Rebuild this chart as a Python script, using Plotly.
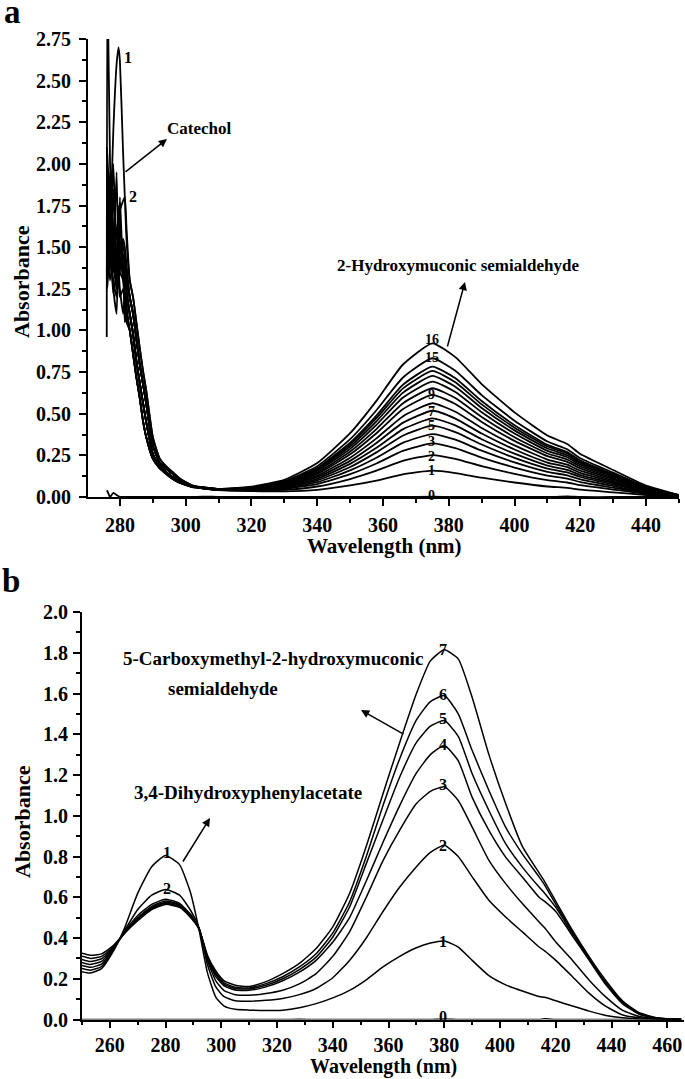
import plotly.graph_objects as go

W, H = 685, 1079
FONT = "Liberation Serif"

# ---------------- Panel a data ----------------
WL_A = [276, 276.2, 277, 278, 279, 279.6, 280, 281, 281.5, 282,
        283, 284, 285, 286, 287, 288, 290, 292, 294, 296, 298, 300, 302,
        305, 310, 320, 330, 340, 350, 358, 366, 375, 382, 390, 400, 410, 416, 420, 430, 440, 450]

a0 = [0.04, 0.035, 0.0, 0.025, 0.012, 0.004, 0.0, 0.001, 0.0, 0.0,
      0.0, 0.0, 0.0, 0.0, 0.0, 0.0, 0.0, 0.0, 0.0, 0.0, 0.0, 0.0, 0.0,
      0.002, 0.001, 0.0, 0.0, 0.001, 0.0, 0.0, 0.0, 0.002, 0.0, 0.0, 0.0, 0.0, 0.003, 0.0, 0.0, 0.0, 0.0]
a1 = [1.30, 1.32, 1.60, 2.20, 2.60, 2.70, 2.62, 2.05, 1.80, 1.55,
      1.3, 1.2, 1.05, 0.90, 0.76, 0.64, 0.36, 0.235, 0.185, 0.15, 0.115, 0.09, 0.07,
      0.052, 0.042, 0.036, 0.034, 0.043, 0.070, 0.099, 0.136, 0.158, 0.144, 0.116, 0.087, 0.063, 0.055, 0.044, 0.028, 0.012, 0.002]
a2 = [1.50, 1.48, 1.30, 1.45, 1.60, 1.68, 1.72, 1.78, 1.80, 1.62,
      1.3, 1.2, 1.05, 0.90, 0.76, 0.64, 0.36, 0.235, 0.185, 0.15, 0.115, 0.09, 0.07,
      0.052, 0.043, 0.039, 0.043, 0.063, 0.108, 0.158, 0.217, 0.252, 0.229, 0.185, 0.139, 0.101, 0.087, 0.071, 0.044, 0.019, 0.003]
a3 = [2.10, 2.05, 1.70, 1.45, 1.95, 1.40, 1.50, 1.45, 1.40, 1.30,
      1.2, 1.1, 0.95, 0.80, 0.68, 0.56, 0.31, 0.21, 0.17, 0.14, 0.105, 0.083, 0.067,
      0.053, 0.043, 0.041, 0.049, 0.078, 0.137, 0.201, 0.277, 0.322, 0.293, 0.237, 0.177, 0.129, 0.111, 0.090, 0.056, 0.024, 0.004]
a4 = [1.60, 1.62, 1.85, 1.50, 1.35, 1.75, 1.60, 1.50, 1.45, 1.35,
      1.2, 1.1, 0.95, 0.80, 0.68, 0.56, 0.31, 0.21, 0.17, 0.14, 0.105, 0.083, 0.067,
      0.053, 0.044, 0.043, 0.054, 0.089, 0.160, 0.236, 0.325, 0.378, 0.344, 0.278, 0.208, 0.151, 0.130, 0.106, 0.066, 0.028, 0.005]
a5 = [1.90, 1.88, 1.55, 2.00, 1.45, 1.40, 1.55, 1.40, 1.35, 1.25,
      1.1, 0.98, 0.82, 0.69, 0.57, 0.45, 0.26, 0.19, 0.15, 0.12, 0.095, 0.077, 0.063,
      0.054, 0.044, 0.045, 0.059, 0.100, 0.180, 0.268, 0.368, 0.428, 0.389, 0.315, 0.235, 0.171, 0.148, 0.120, 0.075, 0.032, 0.006]
a6 = [1.45, 1.47, 1.75, 1.40, 1.60, 1.50, 1.35, 1.55, 1.50, 1.40,
      1.2, 1.1, 0.95, 0.80, 0.68, 0.56, 0.31, 0.21, 0.17, 0.14, 0.105, 0.083, 0.067,
      0.054, 0.045, 0.047, 0.062, 0.109, 0.199, 0.295, 0.406, 0.472, 0.430, 0.347, 0.260, 0.189, 0.163, 0.132, 0.083, 0.035, 0.006]
a7 = [1.75, 1.72, 1.40, 1.60, 1.30, 1.45, 1.80, 1.35, 1.30, 1.20,
      1.1, 0.98, 0.82, 0.69, 0.57, 0.45, 0.26, 0.19, 0.15, 0.12, 0.095, 0.077, 0.063,
      0.055, 0.045, 0.048, 0.067, 0.119, 0.217, 0.324, 0.445, 0.518, 0.471, 0.381, 0.285, 0.207, 0.179, 0.145, 0.091, 0.039, 0.007]
a8 = [2.00, 1.98, 1.65, 1.35, 1.50, 1.30, 1.45, 1.30, 1.25, 1.15,
      1.0, 0.86, 0.72, 0.60, 0.46, 0.36, 0.23, 0.175, 0.14, 0.11, 0.088, 0.072, 0.06,
      0.055, 0.046, 0.050, 0.071, 0.128, 0.236, 0.352, 0.484, 0.563, 0.512, 0.414, 0.310, 0.225, 0.194, 0.158, 0.099, 0.042, 0.007]
a9 = [1.35, 1.37, 1.55, 1.25, 1.10, 1.55, 1.40, 1.45, 1.35, 1.25,
      1.1, 0.98, 0.82, 0.69, 0.57, 0.45, 0.26, 0.19, 0.15, 0.12, 0.095, 0.077, 0.063,
      0.056, 0.046, 0.051, 0.075, 0.139, 0.256, 0.383, 0.527, 0.613, 0.558, 0.451, 0.337, 0.245, 0.211, 0.172, 0.107, 0.046, 0.008]
a10 = [1.55, 1.56, 1.95, 1.60, 1.45, 1.35, 1.50, 1.40, 1.45, 1.35,
       1.2, 1.1, 0.95, 0.80, 0.68, 0.56, 0.31, 0.21, 0.17, 0.14, 0.105, 0.083, 0.067,
       0.056, 0.047, 0.053, 0.079, 0.147, 0.273, 0.408, 0.562, 0.653, 0.594, 0.480, 0.359, 0.261, 0.225, 0.183, 0.114, 0.049, 0.008]
a11 = [1.80, 1.78, 1.45, 1.30, 1.20, 1.35, 1.25, 1.10, 1.20, 1.10,
       1.0, 0.86, 0.72, 0.60, 0.46, 0.36, 0.23, 0.175, 0.14, 0.11, 0.088, 0.072, 0.06,
       0.057, 0.047, 0.054, 0.082, 0.156, 0.289, 0.433, 0.596, 0.693, 0.631, 0.509, 0.381, 0.277, 0.239, 0.194, 0.121, 0.052, 0.009]
a12 = [1.25, 1.27, 1.50, 1.22, 1.35, 1.45, 1.65, 1.40, 1.30, 1.20,
       1.1, 0.98, 0.82, 0.69, 0.57, 0.45, 0.26, 0.19, 0.15, 0.12, 0.095, 0.077, 0.063,
       0.057, 0.047, 0.055, 0.085, 0.163, 0.303, 0.454, 0.625, 0.727, 0.662, 0.534, 0.400, 0.291, 0.251, 0.204, 0.127, 0.055, 0.009]
a13 = [1.65, 1.63, 1.35, 1.85, 1.28, 1.40, 1.35, 1.30, 1.05, 1.10,
       1.0, 0.86, 0.72, 0.60, 0.46, 0.36, 0.23, 0.175, 0.14, 0.11, 0.088, 0.072, 0.06,
       0.058, 0.048, 0.056, 0.088, 0.169, 0.315, 0.473, 0.651, 0.757, 0.689, 0.556, 0.416, 0.303, 0.261, 0.212, 0.132, 0.057, 0.010]
a14 = [1.40, 1.42, 1.70, 1.35, 1.50, 1.30, 1.40, 1.35, 1.30, 1.20,
       1.1, 0.98, 0.82, 0.69, 0.57, 0.45, 0.26, 0.19, 0.15, 0.12, 0.095, 0.077, 0.063,
       0.058, 0.048, 0.057, 0.090, 0.174, 0.326, 0.489, 0.673, 0.783, 0.713, 0.576, 0.431, 0.313, 0.270, 0.219, 0.137, 0.059, 0.010]
a15 = [1.95, 1.93, 1.50, 1.40, 1.25, 1.30, 1.20, 1.25, 1.15, 1.05,
       1.0, 0.86, 0.72, 0.60, 0.46, 0.36, 0.23, 0.175, 0.14, 0.11, 0.088, 0.072, 0.06,
       0.059, 0.048, 0.059, 0.095, 0.185, 0.347, 0.521, 0.716, 0.833, 0.758, 0.612, 0.458, 0.333, 0.287, 0.233, 0.146, 0.062, 0.011]
a16 = [0.96, 3.20, 2.00, 1.60, 1.45, 1.50, 1.40, 1.45, 1.40, 1.30,
       1.2, 1.1, 0.95, 0.80, 0.68, 0.56, 0.31, 0.21, 0.17, 0.14, 0.105, 0.083, 0.067,
       0.060, 0.049, 0.062, 0.103, 0.204, 0.383, 0.577, 0.794, 0.923, 0.840, 0.678, 0.508, 0.369, 0.318, 0.258, 0.162, 0.069, 0.012]

SERIES_A = [a0, a1, a2, a3, a4, a5, a6, a7, a8, a9, a10, a11, a12, a13, a14, a15, a16]

# curve labels of panel a
LAB_A_TEXT = ["16", "15", "9", "7", "5", "3", "2", "1", "0"]
LAB_A_Y = [0.943, 0.837, 0.613, 0.512, 0.428, 0.332, 0.242, 0.158, 0.012]
LAB_A_X = 374.8
CAT_LAB_TEXT = ["1", "2"]
CAT_LAB_X = [282.4, 283.9]
CAT_LAB_Y = [2.641, 1.804]

# ---------------- Panel b data ----------------
WL_B = [250, 253, 257, 261, 265, 270, 275, 280, 285, 289, 292, 295, 298, 301, 305, 310,
        316, 322, 328, 334, 340, 346, 352, 358, 364, 370, 375, 380, 385, 390,
        396, 402, 408, 414, 416, 420, 426, 432, 438, 444, 450, 456, 465]

b0 = [0.0, 0.0, 0.0, 0.0, 0.0, 0.0, 0.0, 0.0, 0.0, 0.0, 0.0, 0.0, 0.0, 0.0, 0.0, 0.0,
      0.0, 0.0, 0.001, 0.0, 0.0, 0.0, 0.0, 0.0, 0.0, 0.0, 0.0, 0.002, 0.0, 0.0,
      0.0, 0.0, 0.0, 0.0, 0.004, 0.0, 0.0, 0.0, 0.0, 0.0, 0.0, 0.0, 0.0]
b1 = [0.235, 0.228, 0.25, 0.33, 0.44, 0.62, 0.75, 0.805, 0.76, 0.62, 0.44, 0.23, 0.11, 0.066, 0.05, 0.046,
      0.044, 0.046, 0.058, 0.078, 0.106, 0.143, 0.195, 0.258, 0.31, 0.352, 0.375, 0.385, 0.355, 0.29,
      0.215, 0.17, 0.14, 0.113, 0.109, 0.092, 0.066, 0.041, 0.02, 0.008, 0.003, 0.001, 0.0]
b2 = [0.25, 0.242, 0.26, 0.335, 0.43, 0.54, 0.61, 0.638, 0.61, 0.535, 0.45, 0.27, 0.16, 0.112, 0.092, 0.09,
      0.094, 0.103, 0.122, 0.152, 0.205, 0.29, 0.40, 0.53, 0.65, 0.75, 0.82, 0.855, 0.80, 0.70,
      0.585, 0.503, 0.43, 0.356, 0.337, 0.29, 0.21, 0.128, 0.064, 0.022, 0.008, 0.003, 0.0]
b3 = [0.265, 0.256, 0.272, 0.34, 0.425, 0.51, 0.565, 0.59, 0.57, 0.515, 0.445, 0.29, 0.19, 0.142, 0.122, 0.119,
      0.128, 0.144, 0.175, 0.225, 0.31, 0.43, 0.60, 0.78, 0.93, 1.06, 1.12, 1.142, 1.075, 0.944,
      0.781, 0.667, 0.569, 0.479, 0.45, 0.38, 0.29, 0.193, 0.11, 0.045, 0.015, 0.004, 0.0]
b4 = [0.28, 0.27, 0.285, 0.345, 0.42, 0.50, 0.555, 0.582, 0.565, 0.51, 0.445, 0.30, 0.21, 0.165, 0.145, 0.143,
      0.16, 0.19, 0.232, 0.29, 0.38, 0.50, 0.68, 0.87, 1.05, 1.21, 1.30, 1.345, 1.27, 1.09,
      0.928, 0.797, 0.699, 0.60, 0.58, 0.53, 0.41, 0.29, 0.17, 0.077, 0.026, 0.006, 0.0]
b5 = [0.295, 0.285, 0.298, 0.35, 0.42, 0.495, 0.55, 0.576, 0.56, 0.508, 0.445, 0.305, 0.22, 0.172, 0.152, 0.15,
      0.168, 0.20, 0.245, 0.306, 0.405, 0.552, 0.765, 0.98, 1.19, 1.36, 1.44, 1.467, 1.39, 1.206,
      1.026, 0.863, 0.748, 0.65, 0.62, 0.55, 0.42, 0.295, 0.176, 0.081, 0.027, 0.007, 0.0]
b6 = [0.31, 0.30, 0.31, 0.355, 0.42, 0.49, 0.545, 0.57, 0.555, 0.505, 0.445, 0.31, 0.228, 0.18, 0.158, 0.155,
      0.176, 0.21, 0.258, 0.323, 0.425, 0.577, 0.80, 1.05, 1.28, 1.47, 1.56, 1.59, 1.50, 1.32,
      1.124, 0.944, 0.813, 0.70, 0.66, 0.565, 0.43, 0.30, 0.18, 0.085, 0.03, 0.008, 0.0]
b7 = [0.325, 0.315, 0.322, 0.36, 0.42, 0.485, 0.54, 0.565, 0.55, 0.50, 0.445, 0.315, 0.238, 0.19, 0.168, 0.162,
      0.186, 0.225, 0.275, 0.348, 0.455, 0.618, 0.85, 1.108, 1.36, 1.60, 1.76, 1.815, 1.77, 1.58,
      1.30, 1.06, 0.85, 0.72, 0.677, 0.58, 0.437, 0.307, 0.19, 0.09, 0.033, 0.009, 0.0]

SERIES_B = [b0, b1, b2, b3, b4, b5, b6, b7]

LAB_B_TEXT = ["7", "6", "5", "4", "3", "2", "1", "0"]
LAB_B_Y = [1.815, 1.593, 1.475, 1.349, 1.151, 0.856, 0.382, 0.014]
LAB_B_X = 379.6
UV_LAB_TEXT = ["1", "2"]
UV_LAB_X = [280.6, 280.6]
UV_LAB_Y = [0.819, 0.644]


def px(x):
    return x / W


def py(y):
    return 1 - y / H


fig = go.Figure()
LINE_A = dict(color="black", width=1.8, shape="spline", smoothing=0.5)
LINE_B = dict(color="black", width=1.5, shape="spline", smoothing=0.5)
for vals in SERIES_A:
    fig.add_trace(go.Scatter(x=WL_A, y=vals, mode="lines", line=LINE_A,
                             xaxis="x", yaxis="y", showlegend=False, hoverinfo="skip"))
for vals in SERIES_B:
    fig.add_trace(go.Scatter(x=WL_B, y=vals, mode="lines", line=LINE_B,
                             xaxis="x2", yaxis="y2", showlegend=False, hoverinfo="skip"))

TICKFONT = dict(family=FONT, size=20, color="black", weight="bold")


def axis_common(**kw):
    d = dict(showline=True, linecolor="black", linewidth=1.8, mirror=False,
             ticks="outside", ticklen=7, tickwidth=1.5, tickcolor="black",
             showgrid=False, zeroline=False, tickfont=TICKFONT, fixedrange=True,
             automargin=False)
    d.update(kw)
    return d


MINOR = dict(ticks="outside", ticklen=4, tickwidth=1.5, tickcolor="black", showgrid=False)

fig.update_layout(
    width=W, height=H, margin=dict(l=0, r=0, t=0, b=0, pad=0, autoexpand=False),
    paper_bgcolor="white", plot_bgcolor="white", showlegend=False,
    xaxis=axis_common(domain=[px(88), px(679)], range=[270.3, 450], anchor="y",
                      tick0=280, dtick=20, ticklabelstandoff=2,
                      minor=dict(MINOR, dtick=10, tick0=270)),
    yaxis=axis_common(domain=[py(497), py(39)], range=[0, 2.75], anchor="x",
                      tick0=0, dtick=0.25, tickformat=".2f", ticklabelstandoff=4,
                      minor=dict(MINOR, dtick=0.125, tick0=0)),
    xaxis2=axis_common(domain=[px(82), px(684)], range=[250, 466], anchor="y2",
                       tick0=260, dtick=20, ticklabelstandoff=0,
                       minor=dict(MINOR, dtick=10, tick0=250)),
    yaxis2=axis_common(domain=[py(1019.5), py(612)], range=[0, 2.0], anchor="x2",
                       tick0=0, dtick=0.2, tickformat=".1f", ticklabelstandoff=1,
                       minor=dict(MINOR, dtick=0.1, tick0=0)),
)

ann = []


def text_px(x, y, s, size, **kw):
    ann.append(dict(x=px(x), y=py(y), xref="paper", yref="paper", text=s, showarrow=False,
                    xanchor="center", yanchor="middle",
                    font=dict(family=FONT, size=size, color="black", weight="bold"), **kw))


def arrow_px(hx, hy, tx, ty):
    ann.append(dict(x=px(hx), y=py(hy), xref="paper", yref="paper", text="",
                    showarrow=True, ax=tx - hx, ay=ty - hy, axref="pixel", ayref="pixel",
                    arrowhead=2, arrowsize=1.1, arrowwidth=1.5, arrowcolor="black"))


# panel letters
text_px(12, 12, "a", 33)
text_px(11, 581, "b", 33)

# axis titles
text_px(22, 282, "Absorbance", 22, textangle=-90)
text_px(384, 546, "Wavelength (nm)", 21)
text_px(22, 822, "Absorbance", 22, textangle=-90)
text_px(383, 1066, "Wavelength (nm)", 20)

# compound annotations
text_px(198.5, 128.5, "Catechol", 17)
arrow_px(167, 139, 124, 173)
text_px(457.5, 265, "2-Hydroxymuconic semialdehyde", 17)
arrow_px(465, 282, 447, 348)
text_px(273, 658, "5-Carboxymethyl-2-hydroxymuconic", 19)
text_px(222.5, 689, "semialdehyde", 19)
arrow_px(361, 710, 405, 735)
text_px(247.5, 792, "3,4-Dihydroxyphenylacetate", 19)
arrow_px(210, 818, 182, 863)

# curve number labels (data coordinates)
CURVE_FONT_A = dict(family=FONT, size=14, color="black", weight="bold")
CURVE_FONT_B = dict(family=FONT, size=16, color="black", weight="bold")
for t, yv in zip(LAB_A_TEXT, LAB_A_Y):
    ann.append(dict(x=LAB_A_X, y=yv, xref="x", yref="y", text=t, showarrow=False,
                    font=CURVE_FONT_A, borderpad=0))
for t, xv, yv in zip(CAT_LAB_TEXT, CAT_LAB_X, CAT_LAB_Y):
    ann.append(dict(x=xv, y=yv, xref="x", yref="y", text=t, showarrow=False, font=CURVE_FONT_B))
for t, yv in zip(LAB_B_TEXT, LAB_B_Y):
    ann.append(dict(x=LAB_B_X, y=yv, xref="x2", yref="y2", text=t, showarrow=False, font=CURVE_FONT_B))
for t, xv, yv in zip(UV_LAB_TEXT, UV_LAB_X, UV_LAB_Y):
    ann.append(dict(x=xv, y=yv, xref="x2", yref="y2", text=t, showarrow=False, font=CURVE_FONT_B))

fig.update_layout(annotations=ann)
fig.write_html("out.html", config={"displayModeBar": False},
               post_script="document.body.style.margin='0px';")
